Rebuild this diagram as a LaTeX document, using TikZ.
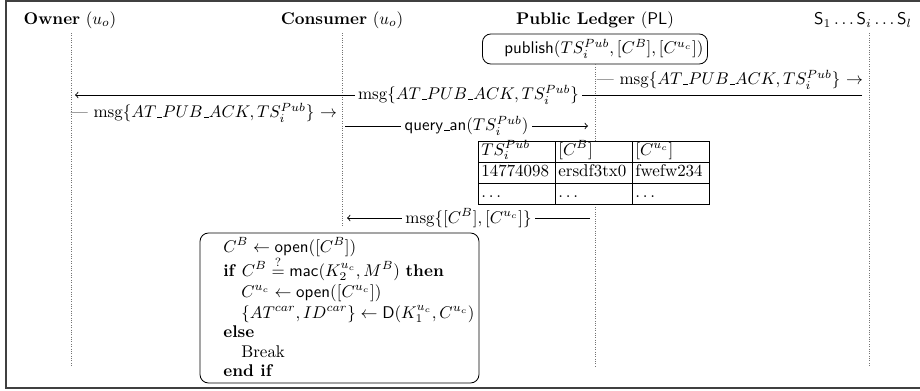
\documentclass[tikz,border=0pt]{standalone}
\newcommand\usc{\mbox{\kern.06em\vbox{\hrule width.3em}}}
\begin{document}
\begin{tikzpicture}[x=0.59pt,y=-0.59pt,
  frame/.style={draw=black!75,line width=0.9pt},
  lifeline/.style={densely dotted,black!55,line width=0.4pt},
  msgarrow/.style={->,line width=0.5pt},
  lbl/.style={fill=white,inner sep=2pt},
  plain/.style={inner sep=0pt},
  rbox/.style={draw,rounded corners=5pt,line width=0.5pt},
  cell/.style={anchor=base west,inner sep=0pt},
  algline/.style={anchor=base west,inner sep=0pt}]
\useasboundingbox (0,0) rectangle (920,390);
\draw[frame] (6,1) rectangle (926,388);

% headers
\node[plain] (hO) at (70,20) {\textbf{Owner} ($u_o$)};
\node[plain] (hC) at (342,20) {\textbf{Consumer} ($u_o$)};
\node[plain] (hP) at (595,20) {\textbf{Public Ledger} ($\mathsf{PL}$)};
\node[plain] (hS) at (863,20) {$\mathsf{S}_1\ldots\mathsf{S}_i\ldots\mathsf{S}_l$};

% publish box
\node[rbox,minimum height=16.5pt,text width=128pt,inner xsep=2.4pt,align=right] (pub) at (595,49)
  {$\mathsf{publish}(TS_i^{Pub},[C^B],[C^{u_c}])$};

% lifelines
\coordinate (oT) at (71,33);  \coordinate (oB) at (71,367);
\coordinate (cT) at (342,33); \coordinate (cB) at (342,226);
\coordinate (pB) at (595,367);
\coordinate (sT) at (869,33); \coordinate (sB) at (869,367);
\draw[lifeline] (oT) -- (oB);
\draw[lifeline] (cT) -- (cB);
\draw[lifeline] (pub.south) -- (pB);
\draw[lifeline] (sT) -- (sB);

% messages
\node[plain] (t1) at (730,80) {--- msg$\{AT\usc PUB\usc ACK,TS_i^{Pub}\}$ $\rightarrow$};
\coordinate (a1s) at (862,95); \coordinate (a1e) at (75,95);
\draw[msgarrow] (a1s) -- node[lbl] (m1) {msg$\{AT\usc PUB\usc ACK,TS_i^{Pub}\}$} (a1e);
\node[plain] (t2) at (204,113) {--- msg$\{AT\usc PUB\usc ACK,TS_i^{Pub}\}$ $\rightarrow$};
\coordinate (q1s) at (345,126); \coordinate (q1e) at (588,126);
\draw[msgarrow] (q1s) -- node[lbl] (m2) {$\mathsf{query\usc an}(TS_i^{Pub})$} (q1e);
\coordinate (r1s) at (590,218); \coordinate (r1e) at (347,218);
\draw[msgarrow] (r1s) -- node[lbl] (m3) {msg$\{[C^B],[C^{u_c}]\}$} (r1e);

% table
\draw[line width=0.5pt,fill=white] (478,141) rectangle (709,204);
\draw[line width=0.5pt] (478,162) -- (709,162) (478,183) -- (709,183)
  (555,141) -- (555,204) (632,141) -- (632,204);
\node[cell] (c11) at (481,155) {$TS_i^{Pub}$};
\node[cell] (c12) at (558,155) {$[C^B]$};
\node[cell] (c13) at (635,155) {$[C^{u_c}]$};
\node[cell] (c21) at (481,176) {14774098};
\node[cell] (c22) at (558,176) {ersdf3tx0};
\node[cell] (c23) at (635,176) {fwefw234};
\node[cell] (c31) at (481,197) {$\ldots$};
\node[cell] (c32) at (558,197) {$\ldots$};
\node[cell] (c33) at (635,197) {$\ldots$};

% algorithm box
\node[rbox,minimum width=164.6pt,minimum height=88.5pt,inner sep=0pt] (alg) at (339.5,308) {};
\node[algline] (l1) at (223,252) {$C^B \leftarrow \mathsf{open}([C^B])$};
\node[algline] (l2) at (223,276) {\textbf{if} $C^B \stackrel{?}{=} \mathsf{mac}(K_2^{u_c},M^B)$ \textbf{then}};
\node[algline] (l3) at (241,297) {$C^{u_c} \leftarrow \mathsf{open}([C^{u_c}])$};
\node[algline] (l4) at (241,318) {$\{AT^{car},ID^{car}\} \leftarrow \mathsf{D}(K_1^{u_c},C^{u_c})$};
\node[algline] (l5) at (223,337) {\textbf{else}};
\node[algline] (l6) at (241,357) {Break};
\node[algline] (l7) at (223,376) {\textbf{end if}};
\end{tikzpicture}
\end{document}
